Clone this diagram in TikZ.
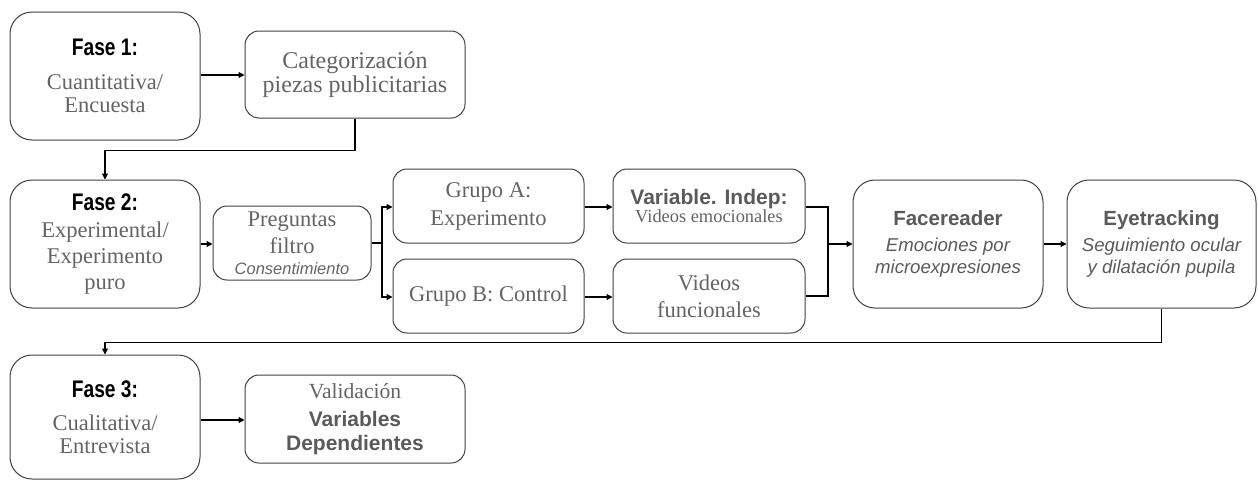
\documentclass[tikz,border=0pt]{standalone}
\usepackage{fontspec}
\setmainfont{Liberation Serif}
\setsansfont{Liberation Sans}
\newfontfamily\hfont{Liberation Sans}[FakeStretch=0.8]
\usetikzlibrary{arrows.meta}
\definecolor{txt}{HTML}{646464}
\definecolor{htxt}{HTML}{5A5A5A}
\definecolor{edge}{HTML}{404040}
\begin{document}
\begin{tikzpicture}[x=1pt,y=-1pt,
  box/.style={draw=edge,line width=1pt,rounded corners=#1,align=center,inner sep=0pt,text=txt},
  box/.default=14pt,
  big/.style={box=22pt,minimum width=190pt,minimum height=128pt},
  arr/.style={line width=1.1pt,draw=black,-{Triangle[length=6pt,width=6pt]}},
  ln/.style={line width=1.1pt,draw=black},
]
\useasboundingbox (0,0) rectangle (1258,480);
\newcommand{\hdr}[1]{{\hfont\bfseries\color{black}\fontsize{24}{24}\selectfont#1}}
\newcommand{\ghdr}[1]{{\sffamily\bfseries\color{htxt}#1}}

\node[big,font=\fontsize{22.5}{23}\selectfont] (f1) at (105,76) {\hdr{Fase 1:}\\[11pt]Cuantitativa/\\Encuesta};
\node[box,minimum width=220pt,minimum height=87pt,font=\fontsize{24}{24}\selectfont] (cat) at (355,74.5) {Categorización\\piezas publicitarias};

\node[big,font=\fontsize{22.5}{26}\selectfont] (f2) at (105,244) {\hdr{Fase 2:}\\[1pt]Experimental/\\Experimento\\puro};
\node[box,minimum width=158pt,minimum height=74pt,font=\fontsize{22.5}{27}\selectfont] (preg) at (292,243) {Preguntas\\filtro\\[-6pt]{\sffamily\itshape\fontsize{16.5}{18}\selectfont Consentimiento}};
\node[box,minimum width=191pt,minimum height=74pt,font=\fontsize{22.5}{28}\selectfont] (ga) at (488.5,206) {Grupo A:\\Experimento};
\node[box,minimum width=191pt,minimum height=74pt,font=\fontsize{22.5}{28}\selectfont] (gb) at (488.5,296) {Grupo B: Control};
\node[box,minimum width=192pt,minimum height=74pt] (var) at (709,206) {\ghdr{\fontsize{21}{23}\selectfont Variable. Indep:}\\[-1pt]{\fontsize{18.4}{20}\selectfont Videos emocionales}};
\node[box,minimum width=192pt,minimum height=74pt,font=\fontsize{22.5}{27}\selectfont] (vf) at (709,296) {Videos\\funcionales};
\node[big,text=htxt,font=\sffamily\fontsize{18.6}{22}\selectfont] (face) at (948,244) {\ghdr{\fontsize{20.5}{25}\selectfont Facereader}\\[4pt]\itshape Emociones por\\\itshape microexpresiones};
\node[big,text=htxt,font=\sffamily\fontsize{18.6}{22}\selectfont,minimum width=189pt] (eye) at (1161.5,244) {\ghdr{\fontsize{20.5}{25}\selectfont Eyetracking}\\[4pt]\itshape Seguimiento ocular\\\itshape y dilatación pupila};

\node[big,minimum height=124pt,font=\fontsize{22.5}{23}\selectfont] (f3) at (105,417) {\hdr{Fase 3:}\\[10pt]Cualitativa/\\Entrevista};
\node[box,minimum width=220pt,minimum height=88pt,font=\fontsize{21.6}{26}\selectfont] (val) at (355,419) {Validación\\[2pt]\ghdr{\fontsize{21}{26}\selectfont Variables}\\[-2pt]\ghdr{\fontsize{21}{26}\selectfont Dependientes}};

\draw[arr] (f1.east |- 0,75) -- (cat.west |- 0,75);
\draw[arr] (cat.south) -- ++(0,-32pt) -| (f2.north);
\draw[arr] (f2.east |- 0,244) -- (preg.west |- 0,244);
\coordinate (br) at (382,243);
\draw[ln] (preg.east |- br) -- (br);
\draw[arr] (br) |- (ga.west |- 0,207);
\draw[arr] (br) |- (gb.west |- 0,297);
\draw[arr] (ga.east |- 0,207) -- (var.west |- 0,207);
\draw[arr] (gb.east |- 0,297) -- (vf.west |- 0,297);
\coordinate (mj) at (828,244);
\draw[ln] (var.east |- 0,207) -| (mj);
\draw[ln] (vf.east |- 0,296) -| (mj);
\draw[arr] (mj) -- (face.west |- mj);
\draw[arr] (face.east |- 0,244) -- (eye.west |- 0,244);
\draw[arr] (eye.south) -- ++(0,-34pt) -| (f3.north);
\draw[arr] (f3.east |- 0,420) -- (val.west |- 0,420);
\end{tikzpicture}
\end{document}
